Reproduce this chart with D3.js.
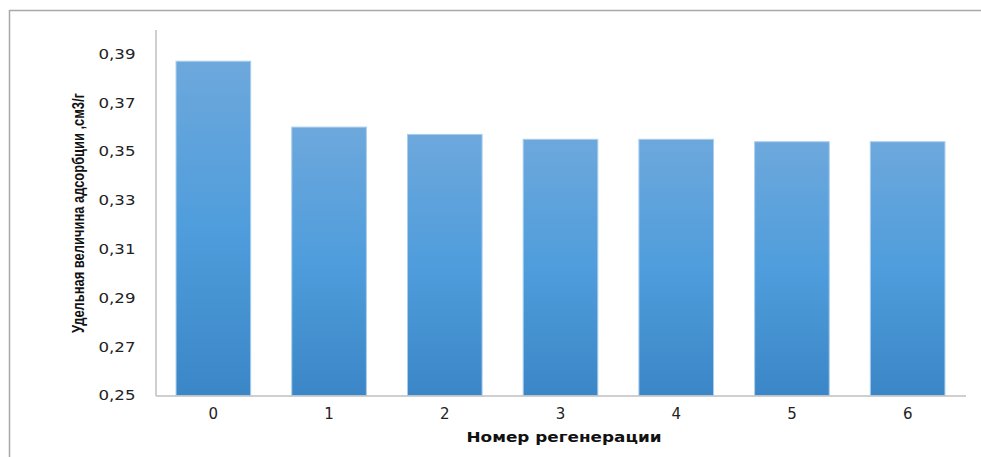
<!DOCTYPE html>
<html><head><meta charset="utf-8">
<script src="https://cdn.jsdelivr.net/npm/d3@7/dist/d3.min.js"></script>
<style>html,body{margin:0;padding:0;background:#fff;}svg{display:block;}</style>
</head><body>
<svg id="chart" width="981" height="457"></svg>
<script>
const categories = ["0","1","2","3","4","5","6"];
const values = [0.387, 0.360, 0.357, 0.355, 0.355, 0.354, 0.354];
const yTicks = [0.25, 0.27, 0.29, 0.31, 0.33, 0.35, 0.37, 0.39];
const yTitle = "Удельная величина адсорбции ,см3/г";
const xTitle = "Номер регенерации";

const svg = d3.select("#chart");
const mLeft = 155.5, mRight = 965.5, mTop = 29.5, mBottom = 395.5;

// outer frame (top & left edges)
svg.append("line").attr("x1",9.5).attr("x2",981).attr("y1",10.5).attr("y2",10.5).attr("stroke","#a8a8a8").attr("stroke-width",1.5);
svg.append("line").attr("x1",9.5).attr("x2",9.5).attr("y1",10).attr("y2",457).attr("stroke","#a8a8a8").attr("stroke-width",1.5);

const x = d3.scaleBand().domain(categories).range([mLeft, mRight]).paddingInner(0.355).paddingOuter(0.1775);
const y = d3.scaleLinear().domain([0.25, 0.40]).range([mBottom, mTop]);

const defs = svg.append("defs");
const g = defs.append("linearGradient").attr("id","bargrad").attr("x1",0).attr("y1",0).attr("x2",0).attr("y2",1);
g.append("stop").attr("offset","0%").attr("stop-color","#6da8dc");
g.append("stop").attr("offset","50%").attr("stop-color","#4f9ddc");
g.append("stop").attr("offset","100%").attr("stop-color","#3b86c6");

svg.append("g").selectAll("rect").data(values).join("rect")
  .attr("x",(d,i)=>x(categories[i]))
  .attr("y",d=>y(d))
  .attr("width",x.bandwidth())
  .attr("height",d=>mBottom - y(d))
  .attr("fill","url(#bargrad)")
  .attr("stroke","#a9cdee").attr("stroke-width",1);

// y axis
const yAxis = svg.append("g").attr("transform",`translate(${mLeft},0)`)
  .call(d3.axisLeft(y).tickValues(yTicks).tickSize(0).tickPadding(20)
    .tickFormat(d=>d3.format(".2f")(d).replace(".",",")));
yAxis.select(".domain").attr("stroke","#bfbfbf").attr("stroke-width",1.5);
yAxis.selectAll("text").attr("font-family","DejaVu Sans, Verdana, sans-serif").attr("font-size",14)
  .attr("fill","#222").attr("textLength",37).attr("lengthAdjust","spacingAndGlyphs");

// x axis
const xAxis = svg.append("g").attr("transform",`translate(0,${mBottom})`)
  .call(d3.axisBottom(x).tickSize(0).tickPadding(13));
xAxis.select(".domain").attr("stroke","#bfbfbf").attr("stroke-width",1.5);
xAxis.selectAll("text").attr("font-family","DejaVu Sans, Verdana, sans-serif").attr("font-size",15).attr("fill","#222");

// titles
svg.append("text").attr("x",564).attr("y",442).attr("text-anchor","middle")
  .attr("font-family","DejaVu Sans, Verdana, sans-serif").attr("font-weight","bold").attr("font-size",14)
  .attr("fill","#111").attr("textLength",195).attr("lengthAdjust","spacingAndGlyphs").text(xTitle);

svg.append("text").attr("transform","translate(84,213) rotate(-90)").attr("text-anchor","middle")
  .attr("font-family","Liberation Sans Narrow, Arial Narrow, Liberation Sans, sans-serif").attr("font-size",17)
  .attr("font-weight","bold").attr("fill","#111")
  .attr("textLength",240).attr("lengthAdjust","spacingAndGlyphs").text(yTitle);
</script>
</body></html>
